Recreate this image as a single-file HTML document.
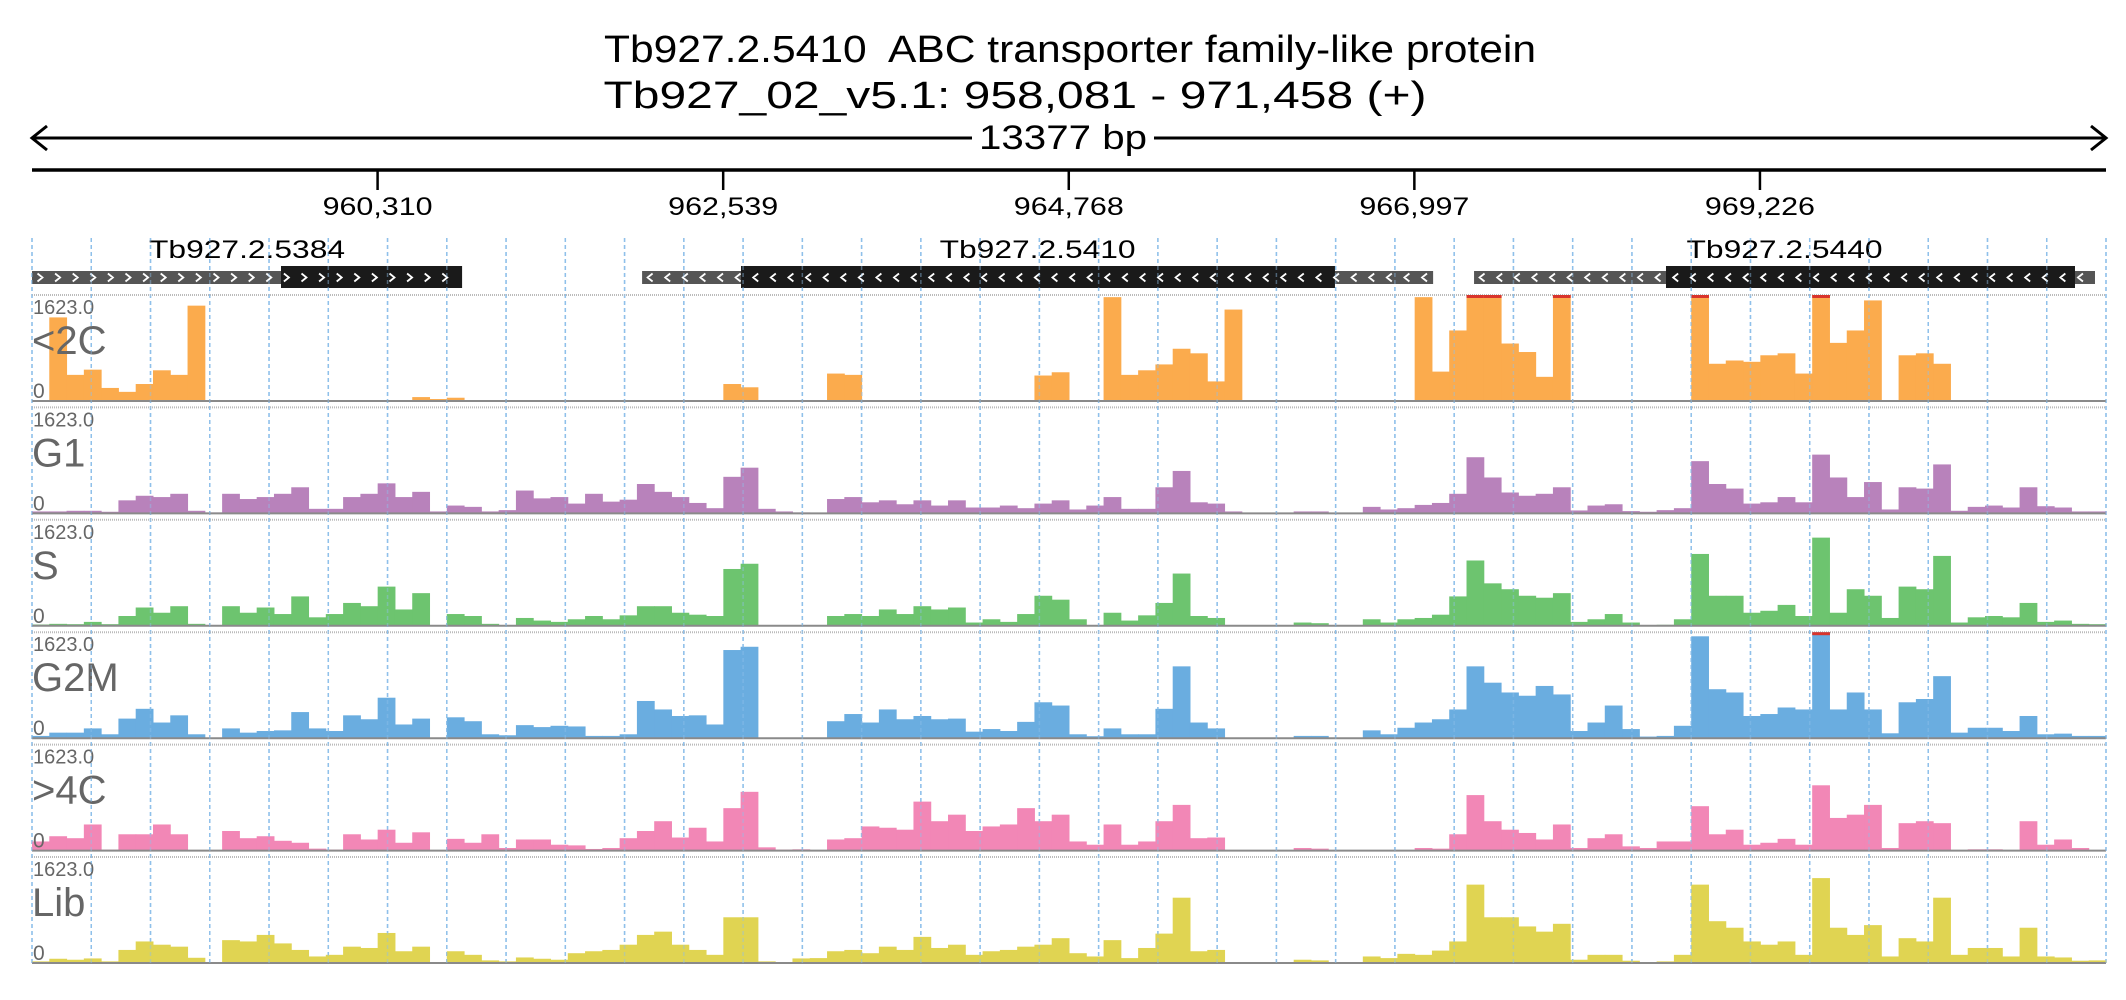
<!DOCTYPE html>
<html><head><meta charset="utf-8"><style>
html,body{margin:0;padding:0;background:#fff;}
svg{display:block;font-family:"Liberation Sans",sans-serif;}
</style></head><body>
<svg id="chart" width="2126" height="1000" viewBox="0 0 2126 1000" xmlns="http://www.w3.org/2000/svg">
<text x="1070" y="62" font-size="38" text-anchor="middle" textLength="932" lengthAdjust="spacingAndGlyphs" xml:space="preserve">Tb927.2.5410&#160; ABC transporter family-like protein</text>
<text x="1015" y="108" font-size="38" text-anchor="middle" textLength="823" lengthAdjust="spacingAndGlyphs">Tb927_02_v5.1: 958,081 - 971,458 (+)</text>
<g stroke="#000" stroke-width="3" fill="none">
<line x1="32" y1="138" x2="972" y2="138"/>
<line x1="1154" y1="138" x2="2104" y2="138"/>
<polyline points="47,126 32,138 47,150"/>
<polyline points="2091,126 2106,138 2091,150"/>
</g>
<text x="1063" y="149" font-size="34" text-anchor="middle" textLength="168" lengthAdjust="spacingAndGlyphs">13377 bp</text>
<line x1="32" y1="170" x2="2106" y2="170" stroke="#000" stroke-width="3.5"/>
<g id="ticks"></g>
<g id="vgrid"></g>
<g id="genes"></g>
<g id="tracks"></g>
<g id="vgrid2"></g>
</svg>
<script>
const regionStart = 958081;
const regionEnd = 971458;
const tickPositions = [960310, 962539, 964768, 966997, 969226];
const tickLabels = ["960,310", "962,539", "964,768", "966,997", "969,226"];
const geneNames = ["Tb927.2.5384", "Tb927.2.5410", "Tb927.2.5440"];
const geneStrand = ["+", "-", "-"];
const geneUtrStart = [958081, 962016, 967382];
const geneCdsStart = [959687, 962654, 968620];
const geneCdsEnd = [960855, 966485, 971258];
const geneUtrEnd = [960855, 967118, 971387];
const trackNames = ["<2C", "G1", "S", "G2M", ">4C", "Lib"];
const trackMax = 1623;
const cov2C = [0,1280,400,480,200,140,260,470,400,1460, 0,0,0,0,0,0,0,0,0,0, 0,0,60,30,50,0,0,0,0,0, 0,0,0,0,0,0,0,0,0,0, 260,210,0,0,0,0,420,400,0,0, 0,0,0,0,0,0,0,0,390,440, 0,0,1590,400,470,560,800,730,300,1400, 0,0,0,0,0,0,0,0,0,0, 1590,450,1080,1623,1623,880,750,370,1623,0, 0,0,0,0,0,0,1623,570,620,600, 700,730,420,1623,890,1080,1540,0,700,730, 570,0,0,0,0,0,0,0,0,0];
const covG1 = [30,30,40,40,25,200,270,250,300,40, 15,300,220,250,300,400,70,70,250,300, 460,250,330,30,120,100,30,50,350,230, 250,150,300,180,210,450,330,250,160,80, 560,700,70,30,15,0,220,250,170,200, 140,200,120,200,90,90,120,80,150,200, 60,120,250,70,70,400,650,170,150,30, 0,0,0,30,30,0,0,100,60,80, 130,160,300,860,550,320,270,300,400,45, 120,140,35,25,50,80,800,450,380,150, 170,250,170,900,550,250,480,60,400,380, 750,40,100,120,90,400,110,90,30,30];
const covS = [20,30,25,60,25,150,280,200,300,30, 10,300,200,280,180,450,130,180,350,300, 600,250,500,10,180,150,30,10,120,80, 60,100,150,100,160,300,300,200,170,150, 870,950,10,5,5,5,150,180,150,250, 180,300,250,280,50,100,60,180,460,400, 100,10,200,80,160,350,800,150,120,10, 5,5,5,50,40,0,0,100,50,100, 120,170,450,1000,650,560,460,430,500,60, 100,180,50,10,15,100,1100,460,460,200, 230,320,150,1350,200,560,460,120,600,560, 1070,50,130,150,130,350,60,80,30,25];
const covG2M = [35,85,85,150,60,300,450,240,350,60, 5,150,85,110,120,400,150,110,350,290, 620,210,300,10,320,260,60,45,200,170, 190,180,35,35,60,570,440,340,350,210, 1350,1400,10,5,5,5,260,370,240,440, 290,340,290,300,100,140,110,250,550,500, 60,30,150,60,60,450,1100,240,150,10, 5,5,5,35,35,0,0,120,60,160, 240,290,440,1100,850,700,650,800,670,110, 240,500,140,25,35,190,1560,750,700,340, 370,470,440,1623,440,700,440,75,550,600, 950,85,160,160,110,340,60,70,35,35];
const cov4C = [140,220,190,400,15,250,250,400,250,5, 5,300,190,220,150,120,30,15,250,170, 320,120,280,5,180,120,250,40,170,170, 90,80,25,40,190,300,450,200,350,140, 650,900,50,15,20,0,170,190,370,350, 320,750,450,550,300,370,400,650,450,550, 140,90,400,90,140,450,700,190,200,5, 5,5,5,40,30,0,0,0,0,0, 40,30,250,850,450,320,270,170,400,40, 190,250,65,40,140,140,680,250,320,90, 120,180,90,1000,500,550,700,40,420,450, 420,0,20,20,0,450,90,170,40,0];
const covLib = [25,65,50,70,25,200,330,280,250,80, 5,350,330,430,300,200,100,125,250,230, 460,180,250,5,180,125,40,25,85,65, 50,150,180,200,280,430,480,280,200,125, 700,700,25,5,70,75,180,200,150,250, 200,400,230,280,125,180,200,250,280,380, 150,100,350,75,230,450,1000,180,200,5, 5,5,5,50,40,0,0,100,75,140, 125,190,330,1200,700,700,560,480,600,50, 125,125,35,15,25,125,1200,640,540,330, 280,330,125,1300,540,430,580,100,380,330, 1000,125,230,230,100,540,100,85,35,40];

const NS = "http://www.w3.org/2000/svg";
const X0 = 32, X1 = 2106;
function xScale(bp){ return X0 + (bp - regionStart) * (X1 - X0) / (regionEnd - regionStart); }
function mk(tag, attrs, parent){ const e = document.createElementNS(NS, tag); for (const k in attrs) e.setAttribute(k, attrs[k]); parent.appendChild(e); return e; }

const tg = document.getElementById('ticks');
tickPositions.forEach((p, i) => {
  const x = xScale(p);
  const t = mk('line', {x1:x, y1:170, x2:x, y2:190, stroke:'#000', 'stroke-width':2.5}, tg);
  
  
  const l = mk('text', {x:x, y:215, 'font-size':25, 'text-anchor':'middle', textLength:110, lengthAdjust:'spacingAndGlyphs'}, tg);
  l.textContent = tickLabels[i];
  
  
});

function drawGrid(g, op){
  for (let i = 0; i <= 35; i++) {
    const x = X0 + i * (X1 - X0) / 35;
    const ln = mk('line', {x1:x, y1:238, x2:x, y2:966, stroke:'#8fc0ea', 'stroke-width':1.5, 'stroke-dasharray':'4,3', opacity:op}, g);
    
    
  }
}
drawGrid(document.getElementById('vgrid'), 1);

const gg = document.getElementById('genes');
function chevrons(x1, x2, cy, dir, parent){
  let d = '';
  for (let x = x1 + 8; x < x2 - 6; x += 17.6) {
    if (dir === '+') d += `M${x-2.5},${cy-4}L${x+2.5},${cy}L${x-2.5},${cy+4}`;
    else d += `M${x+2.5},${cy-4}L${x-2.5},${cy}L${x+2.5},${cy+4}`;
  }
  const p = mk('path', {d:d, stroke:'#fff', 'stroke-width':1.8, fill:'none'}, parent);
  
  
}
geneNames.forEach((n, i) => {
  const g = mk('g', {}, gg);
  
  
  const a = xScale(geneUtrStart[i]), b = xScale(geneCdsStart[i]), c = xScale(geneCdsEnd[i]), e = xScale(geneUtrEnd[i]);
  const u1 = mk('rect', {x:a, y:271, width:b - a, height:13, fill:'#555'}, g);
  
  
  if (e > c + 1) {
    const u2 = mk('rect', {x:c, y:271, width:e - c, height:13, fill:'#555'}, g);
    
    
  }
  const cds = mk('rect', {x:b, y:266, width:c - b, height:22, fill:'#1a1a1a'}, g);
  
  
  chevrons(a, e, 277.5, geneStrand[i], g);
  const lab = mk('text', {x:(a + e) / 2, y:258, 'font-size':25, 'text-anchor':'middle', textLength:196, lengthAdjust:'spacingAndGlyphs'}, g);
  lab.textContent = n;
  
  
});

const tracksData = [cov2C, covG1, covS, covG2M, cov4C, covLib];
const trackColors = ['#fbab4d', '#b882bb', '#6dc46f', '#6aade0', '#f287b6', '#e0d452'];
const trg = document.getElementById('tracks');
const TH = 106;
tracksData.forEach((data, k) => {
  const top = 295 + k * 112.4;
  const base = top + TH;
  const g = mk('g', {}, trg);
  
  
  const tl = mk('line', {x1:X0, y1:top, x2:X1, y2:top, stroke:'#bbb', 'stroke-width':2, 'stroke-dasharray':'1,1'}, g);
  
  
  const n = data.length;
  const bw = (regionEnd - regionStart) / n;
  data.forEach((v, i) => {
    if (v <= 0) return;
    const xa = xScale(regionStart + i * bw), xb = xScale(regionStart + (i + 1) * bw);
    const h = Math.min(v, trackMax) / trackMax * TH;
    const r = mk('rect', {x:xa, y:base - h, width:xb - xa + 0.5, height:h, fill:trackColors[k]}, g);
    
    
    if (v >= trackMax) {
      const c = mk('rect', {x:xa, y:top, width:xb - xa + 0.5, height:3, fill:'#d9342b'}, g);
      
      
    }
  });
  const bl = mk('line', {x1:X0, y1:base, x2:X1, y2:base, stroke:'#8a8a8a', 'stroke-width':2}, g);
  
  
  const mx = mk('text', {x:33, y:top + 19, 'font-size':20, fill:'#666'}, g);
  mx.textContent = '1623.0';
  
  
  const nm = mk('text', {x:32, y:top + 59, 'font-size':40, fill:'#666'}, g);
  nm.textContent = trackNames[k];
  
  
  const z = mk('text', {x:33, y:base - 3, 'font-size':21, fill:'#666'}, g);
  z.textContent = '0';
  
  
});
drawGrid(document.getElementById('vgrid2'), 0.45);
</script>
</body></html>
